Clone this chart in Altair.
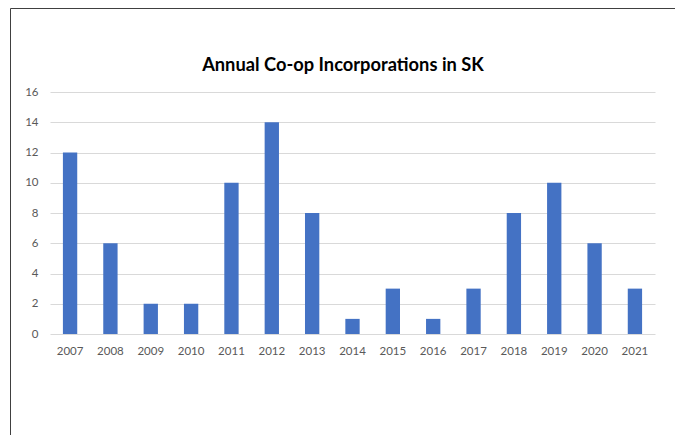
import altair as alt
import pandas as pd

years = ["2007", "2008", "2009", "2010", "2011", "2012", "2013", "2014",
         "2015", "2016", "2017", "2018", "2019", "2020", "2021"]
counts = [12, 6, 2, 2, 10, 14, 8, 1, 3, 1, 3, 8, 10, 6, 3]
y_ticks = [0, 2, 4, 6, 8, 10, 12, 14, 16]
title_text = ["Annual Co-op Incorporations in SK"]

df = pd.DataFrame({"year": years, "count": counts})

FONT = "Lato"

bars = alt.Chart(df).mark_bar(color="#4472C4").encode(
    x=alt.X("year:N", sort=years,
            scale=alt.Scale(paddingInner=0.645, paddingOuter=0.32),
            axis=alt.Axis(title=None, labelAngle=0, ticks=False, domain=False,
                          labelPadding=11, labelFontSize=11.5, labelColor="#595959",
                          labelFont=FONT)),
    y=alt.Y("count:Q", scale=alt.Scale(domain=[0, 16], nice=False),
            axis=alt.Axis(title=None, values=y_ticks, ticks=False, domain=False,
                          labelPadding=12, labelFontSize=11.5, labelColor="#595959",
                          labelFont=FONT, gridColor="#d9d9d9")),
)

frame = alt.Chart(pd.DataFrame({"f": [0]})).mark_rect(
    fill=None, stroke="#404040", strokeWidth=1
).encode(
    x=alt.value(-39.5), x2=alt.value(627.5),
    y=alt.value(-83.5), y2=alt.value(420),
)

title = alt.Chart(pd.DataFrame({"t": title_text})).mark_text(
    font=FONT, fontSize=18.3, fontWeight="bold", color="#000000",
    align="center", baseline="alphabetic"
).encode(text="t:N", x=alt.value(293), y=alt.value(-21))

chart = alt.layer(frame, bars, title).properties(
    width=605, height=242,
    autosize=alt.AutoSizeParams(type="none"),
    padding={"left": 42, "top": 84, "right": 20, "bottom": 101},
).configure_view(stroke=None)

chart.save("out.html", embed_options={"renderer": "svg", "actions": False})
